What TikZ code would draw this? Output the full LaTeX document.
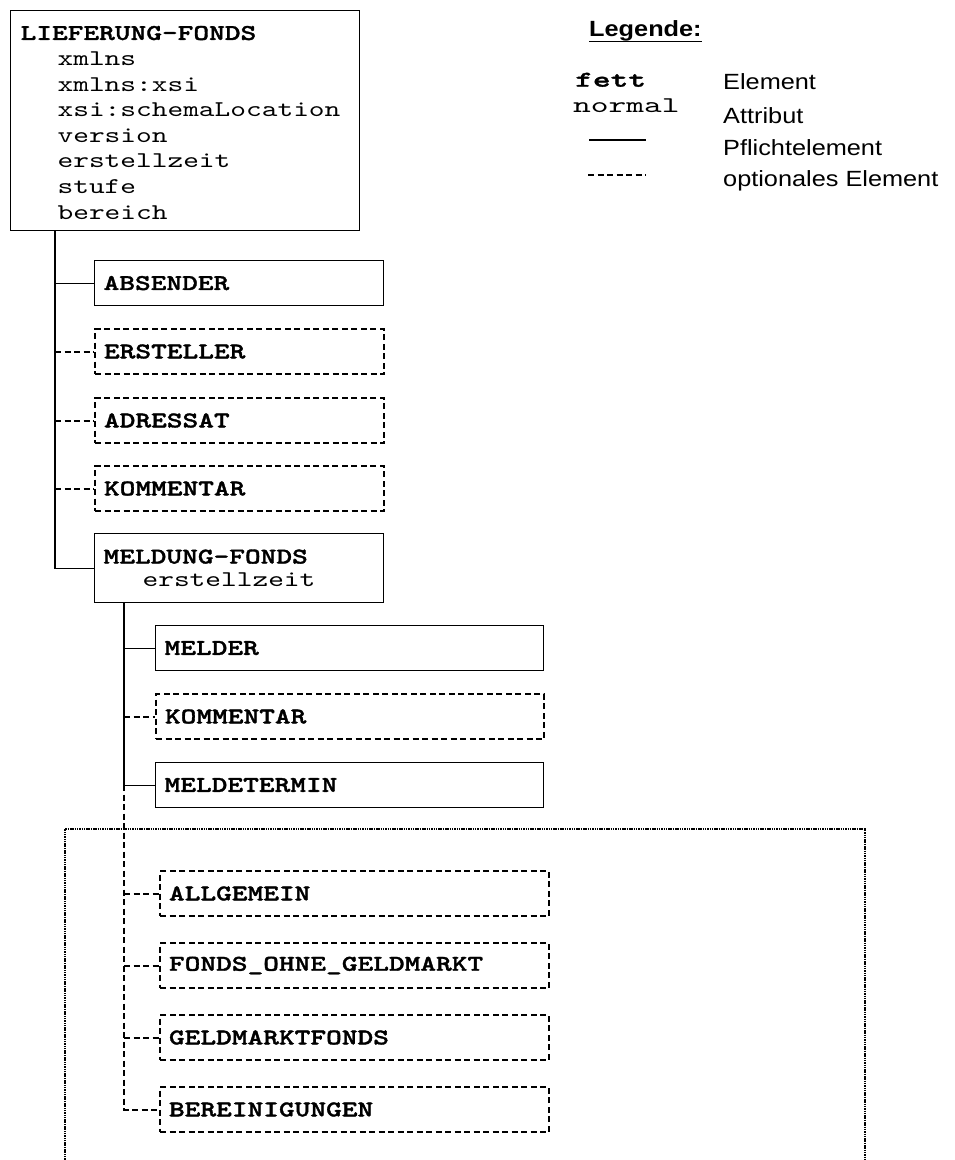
\documentclass[tikz,border=0pt]{standalone}
\usepackage{fontspec}
\newfontfamily\xmlfont{lmmono10-regular.otf}[BoldFont=lmmonolt10-bold.otf, FakeStretch=1.33, BoldFeatures={FakeBold=1.5}]
\newfontfamily\legmono{lmmono10-regular.otf}[BoldFont=lmmonolt10-bold.otf, FakeStretch=1.5, BoldFeatures={FakeBold=1.5}]
\newfontfamily\legsans{Liberation Sans}[FakeStretch=1.15]
\usepackage{tikz}
\usetikzlibrary{positioning, calc}

\tikzset{
  elbox/.style={anchor=north west, minimum height=45pt, inner xsep=9pt, align=left,
    font=\xmlfont\bfseries\fontsize{22.5}{23}\selectfont},
  pflicht/.style={elbox, draw, line width=1.2pt, text width=#1},
  optional/.style={elbox, draw, line width=2pt, dash pattern=on 6pt off 3.5pt, text width=#1},
  solidline/.style={line width=1.2pt},
  optline/.style={line width=2pt, dash pattern=on 6pt off 3.5pt},
  grouprect/.style={line width=2.2pt, dash pattern=on 1.5pt off 0.8pt},
  legtext/.style={anchor=base west, inner sep=0pt, font=\legsans\fontsize{22}{26}\selectfont},
  legcode/.style={anchor=base west, inner sep=0pt, font=\legmono\fontsize{22.5}{24}\selectfont}
}

\begin{document}
\begin{tikzpicture}[x=1pt, y=-1pt]
        \useasboundingbox (0,0) rectangle (954,1160);
        \clip (0,0) rectangle (954,1160);

        % Root element
        \node[draw, line width=1.2pt, anchor=north west, minimum height=220pt, inner xsep=10pt,
          text width=329pt, align=left, font=\xmlfont\fontsize{22.5}{25.6}\selectfont]
          (lieferung) at (10,10) {{\bfseries LIEFERUNG-FONDS}\rule{0pt}{18pt}\\
          \hspace*{37pt}xmlns\\ \hspace*{37pt}xmlns:xsi\\ \hspace*{37pt}xsi:schemaLocation\\
          \hspace*{37pt}version\\ \hspace*{37pt}erstellzeit\\ \hspace*{37pt}stufe\\
          \hspace*{37pt}bereich};

        % First level children
        \node[pflicht=271pt] (absender) at (94,260) {ABSENDER};
        \node[optional=271pt] (ersteller) at (94,328) {ERSTELLER};
        \node[optional=271pt] (adressat) at (94,397) {ADRESSAT};
        \node[optional=271pt] (kommentarA) at (94,465) {KOMMENTAR};
        \node[pflicht=271pt, minimum height=69pt] (meldung) at (94,533)
          {MELDUNG-FONDS\\\hspace*{39pt}{\mdseries erstellzeit}};

        % Children of MELDUNG-FONDS
        \node[pflicht=370pt] (melder) at (155,625) {MELDER};
        \node[optional=370pt] (kommentarB) at (155,693) {KOMMENTAR};
        \node[pflicht=370pt] (meldetermin) at (155,762) {MELDETERMIN};

        % Group of alternatives
        \draw[grouprect] (65,1162) |- (865,829) -- (865,1162);
        \node[optional=371pt] (allgemein) at (159,870) {ALLGEMEIN};
        \node[optional=371pt] (fondsohne) at (159,942) {FONDS\_OHNE\_GELDMARKT};
        \node[optional=371pt] (geldmarkt) at (159,1014) {GELDMARKTFONDS};
        \node[optional=371pt] (bereinigung) at (159,1086) {BEREINIGUNGEN};

        % Tree lines, level 1
        \coordinate (trunkA) at ($(lieferung.south west)+(45,0)$);
        \draw[solidline] (trunkA) |- (meldung.west);
        \draw[solidline] (trunkA |- absender.west) -- (absender.west);
        \foreach \n in {ersteller, adressat, kommentarA}
          \draw[optline] (trunkA |- \n.west) -- (\n.west);

        % Tree lines, level 2
        \coordinate (trunkB) at ($(meldung.south west)+(30,0)$);
        \draw[solidline] (trunkB) |- (meldetermin.west);
        \draw[solidline] (trunkB |- melder.west) -- (melder.west);
        \draw[optline] (trunkB |- kommentarB.west) -- (kommentarB.west);
        \draw[optline] (trunkB |- meldetermin.west) |- (bereinigung.west);
        \foreach \n in {allgemein, fondsohne, geldmarkt}
          \draw[optline] (trunkB |- \n.west) -- (\n.west);

        % Legend
        \node[legtext, font=\legsans\bfseries\fontsize{22}{26}\selectfont] (legende) at (589,36) {Legende:};
        \draw[line width=1.4pt] ($(legende.base west)+(0,5.5)$) -- ($(legende.base east)+(0,5.5)$);
        \node[legcode, font=\legmono\bfseries\fontsize{22.5}{24}\selectfont] (fett) at (575,86.7) {fett};
        \node[legcode] (normal) at (573,112.7) {normal};
        \node[legtext] (element) at (723,89.5) {Element};
        \node[legtext] (attribut) at (723,123.3) {Attribut};
        \node[legtext] (pflichttext) at (723,155) {Pflichtelement};
        \node[legtext] (optionaltext) at (723,186.7) {optionales Element};
        \draw[solidline] (589,140) -- (646,140);
        \draw[optline] (588,175) -- (646,175);

    \end{tikzpicture}
\end{document}
